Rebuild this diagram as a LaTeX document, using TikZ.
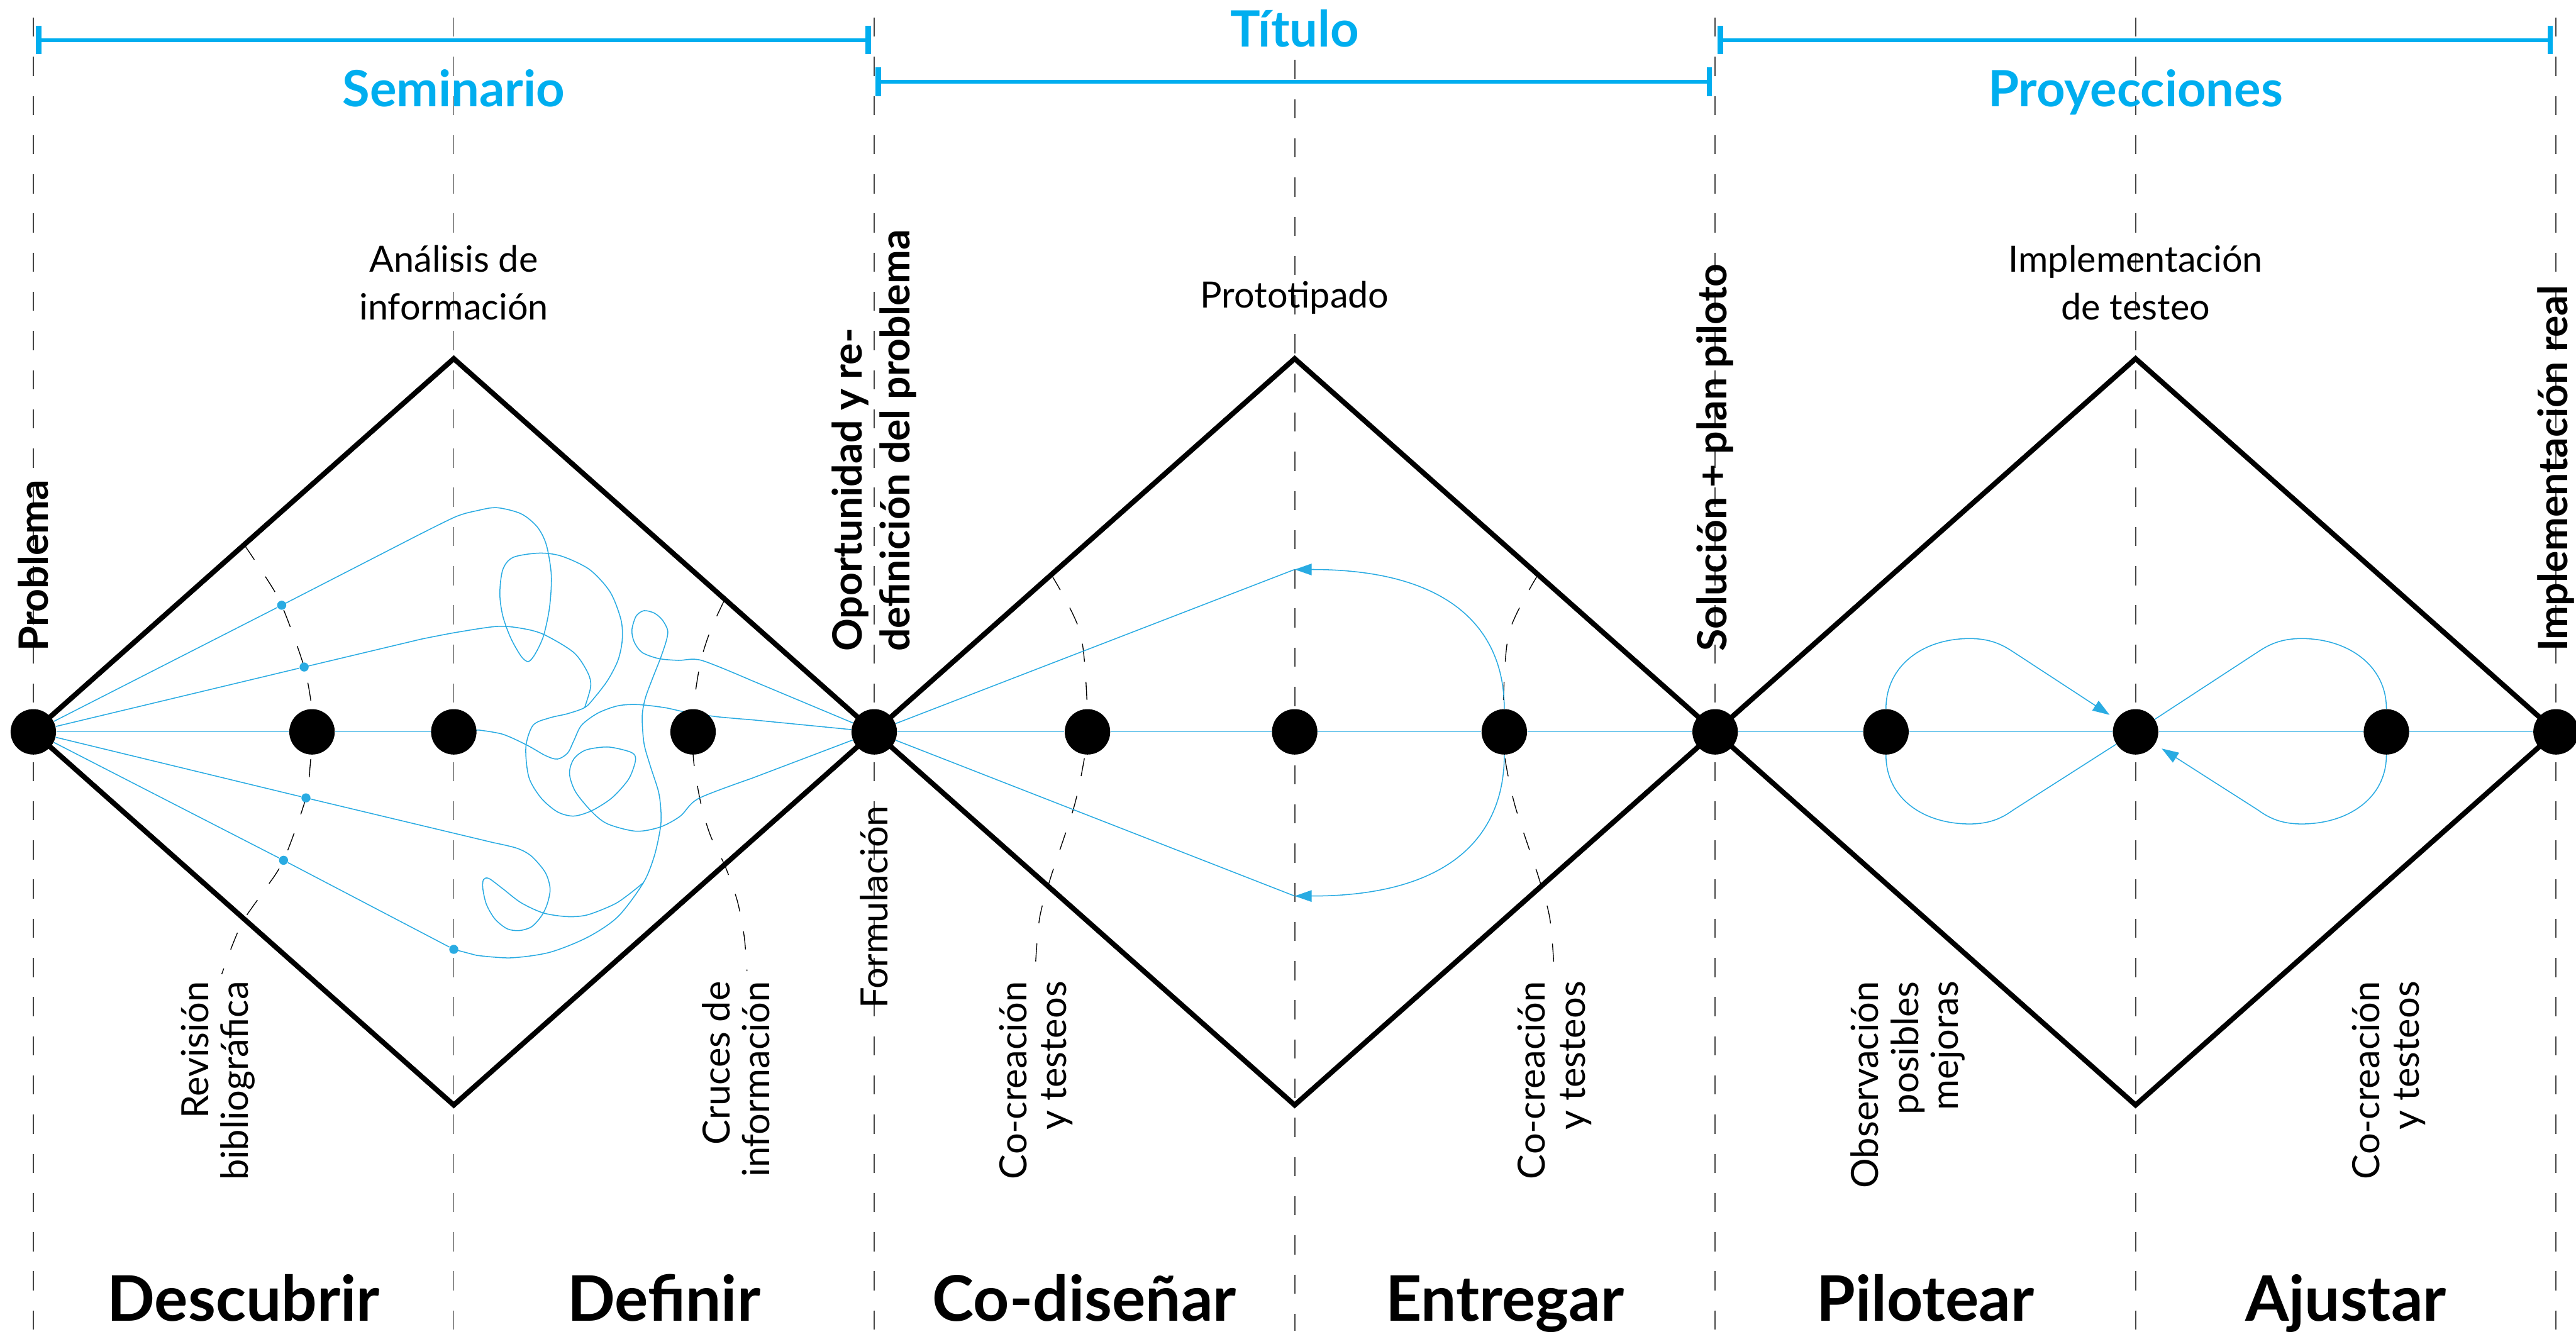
\documentclass[tikz,border=0pt]{standalone}
\usepackage{fontspec}
\setmainfont{Lato}
\usetikzlibrary{arrows.meta}

\definecolor{cian}{RGB}{0,174,239}
\definecolor{cianline}{RGB}{41,171,226}
\definecolor{guia}{RGB}{70,70,70}

\pgfdeclarelayer{fondo}
\pgfsetlayers{fondo,main}

\begin{document}
\begin{tikzpicture}[
    dot/.style={circle, fill=black, inner sep=0pt, minimum size=7.5mm},
    sdot/.style={circle, fill=cianline, inner sep=0pt, minimum size=1.5mm},
    guide/.style={guia, line width=0.55pt, dash pattern=on 9pt off 9.4pt},
    sweep/.style={black, line width=0.4pt, dash pattern=on 8.5pt off 9.5pt},
    diam/.style={line width=2.4pt},
    flow/.style={cianline, line width=0.45pt},
    flowtip/.style={flow, -{Triangle[length=2.8mm, width=1.9mm]}},
    span/.style={cian, line width=1.8pt, arrows={Bar[width=4.7mm, line width=2.6pt]-Bar[width=4.7mm, line width=2.6pt]}},
    head/.style={cian, anchor=base, font=\fontsize{23.5}{28}\selectfont\bfseries},
    phase/.style={anchor=base, font=\fontsize{29.5}{34}\selectfont\bfseries},
    activity/.style={anchor=south, align=center, inner sep=0pt, font=\fontsize{17}{22.4}\selectfont},
    milestone/.style={rotate=90, anchor=west, align=left, inner sep=0pt, font=\fontsize{19}{22.4}\selectfont\bfseries},
    note/.style={rotate=90, anchor=east, align=right, inner sep=0pt, font=\fontsize{17.6}{18.8}\selectfont}
]
\useasboundingbox (-0.55,-10.10) rectangle (41.97,12.08);

% Puntos del eje
\node[dot] (p0) at (0,0) {};
\node[dot] (p1) at (4.60,0) {};
\node[dot] (p2) at (6.94,0) {};
\node[dot] (p3) at (10.89,0) {};
\node[dot] (p4) at (13.88,0) {};
\node[dot] (p5) at (17.40,0) {};
\node[dot] (p6) at (20.82,0) {};
\node[dot] (p7) at (24.28,0) {};
\node[dot] (p8) at (27.76,0) {};
\node[dot] (p9) at (30.58,0) {};
\node[dot] (p10) at (34.70,0) {};
\node[dot] (p11) at (38.84,0) {};
\node[dot] (p12) at (41.64,0) {};

% Puntos de revision
\node[sdot] (ra) at (4.10,2.09) {};
\node[sdot] (rb) at (4.47,1.07) {};
\node[sdot] (rc) at (4.50,-1.09) {};
\node[sdot] (rd) at (4.13,-2.12) {};
\node[sdot] (qd) at (6.94,-3.59) {};

% Cabeceras
\node[head] (tsem) at (6.94,10.32) {Seminario};
\node[head] (ttit) at (20.82,11.31) {Título};
\node[head] (tproy) at (34.70,10.32) {Proyecciones};
\draw[span] (0.04,11.42) -- (13.83,11.42);
\draw[span] (13.90,10.73) -- (27.71,10.73);
\draw[span] (27.80,11.42) -- (41.59,11.42);

% Actividades
\node[activity] (lana) at (6.94,6.79) {Análisis de\\información};
\node[activity, anchor=base] (lproto) at (20.82,7.00) {Prototipado};
\node[activity] (limpl) at (34.70,6.79) {Implementación\\de testeo};

% Hitos
\node[milestone] (mprob) at (0,1.32) {Problema};
\node[milestone] (mopor) at (13.88,1.32) {Oportunidad y re-\\definición del problema};
\node[milestone] (msol) at (27.76,1.32) {Solución + plan piloto};
\node[milestone] (mreal) at (41.64,1.32) {Implementación real};

% Notas
\node[note] (nrev) at (3.05,-4.11) {Revisión\\bibliográfica};
\node[note] (ncru) at (11.60,-4.11) {Cruces de\\información};
\node[note] (nform) at (13.88,-1.21) {Formulación};
\node[note] (ncod) at (16.55,-4.11) {Co-creación\\y testeos};
\node[note] (nent) at (25.11,-4.11) {Co-creación\\y testeos};
\node[note] (nobs) at (30.94,-4.11) {Observación\\posibles\\mejoras};
\node[note] (naju) at (38.88,-4.11) {Co-creación\\y testeos};

% Fases
\node[phase] (fdesc) at (3.47,-9.72) {Descubrir};
\node[phase] (fdef) at (10.41,-9.72) {Definir};
\node[phase] (fcod) at (17.35,-9.72) {Co-diseñar};
\node[phase] (fent) at (24.29,-9.72) {Entregar};
\node[phase] (fpil) at (31.23,-9.72) {Pilotear};
\node[phase] (faju) at (38.17,-9.72) {Ajustar};

\coordinate (q1) at (20.82,2.68);
\coordinate (q2) at (20.82,-2.71);
\coordinate (ul1) at (31.96,1.54);
\coordinate (ul2) at (32.68,1.32);
\coordinate (ll1) at (31.96,-1.52);
\coordinate (ll2) at (32.68,-1.29);
\coordinate (ur1) at (37.44,1.54);
\coordinate (ur2) at (36.72,1.32);
\coordinate (lr1) at (37.44,-1.52);
\coordinate (lr2) at (36.72,-1.29);

\begin{pgfonlayer}{fondo}
% Guias
\draw[guide] (0,11.79) -- (0,-9.89) (6.94,11.79) -- (6.94,-9.89)
  (13.88,11.79) -- (13.88,-9.89) (20.82,11.09) -- (20.82,-9.89)
  (27.76,11.79) -- (27.76,-9.89) (34.70,11.79) -- (34.70,-9.89)
  (41.64,11.79) -- (41.64,-9.89);

% Barridos
\draw[sweep] plot[smooth] coordinates {(3.48,3.09) (3.80,2.61) (4.10,2.09) (4.47,1.07) (4.60,0.37) (4.61,0) (4.57,-0.55) (4.50,-1.09) (4.13,-2.12) (3.78,-2.66) (3.47,-3.11) (3.29,-3.51) (3.11,-4.00)};
\draw[sweep] plot[smooth] coordinates {(11.41,2.18) (11.18,1.68) (11.02,1.18) (10.92,0.58) (10.89,0) (10.90,-0.49) (11.02,-1.19) (11.18,-1.72) (11.42,-2.22) (11.62,-2.79) (11.73,-3.35) (11.77,-3.79) (11.78,-3.95)};
\draw[sweep] plot[smooth] coordinates {(16.80,2.60) (17.28,1.64) (17.40,0.37) (17.40,0) (17.35,-0.43) (17.18,-1.23) (16.80,-2.38) (16.61,-3.07) (16.54,-3.87)};
\draw[sweep] plot[smooth] coordinates {(24.84,2.60) (24.36,1.64) (24.26,0.37) (24.28,0) (24.29,-0.43) (24.46,-1.23) (24.84,-2.38) (25.03,-3.07) (25.10,-3.87)};

% Rombos
\draw[diam] (p0.center) -- (6.94,6.16) -- (p4.center) -- (6.94,-6.16) -- cycle;
\draw[diam] (p4.center) -- (20.82,6.16) -- (p8.center) -- (20.82,-6.16) -- cycle;
\draw[diam] (p8.center) -- (34.70,6.16) -- (p12.center) -- (34.70,-6.16) -- cycle;

% Eje
\draw[flow] (p0) -- (p1) -- (p2);
\draw[flow] (p4) -- (p5) -- (p6) -- (p7) -- (p8) -- (p9) -- (p10) -- (p11) -- (p12);

% Madeja
\draw[flow] (p0) -- (ra) -- plot[smooth] coordinates {(6.30,3.22) (6.97,3.55) (7.32,3.65) (7.65,3.70) (8.05,3.60) (8.32,3.38) (8.47,3.08) (8.55,2.58) (8.52,2.05) (8.42,1.58) (8.28,1.28) (8.17,1.16) (8.05,1.25) (7.88,1.55) (7.75,1.91) (7.70,2.28) (7.75,2.68) (7.92,2.88) (8.35,2.95) (8.72,2.90) (9.18,2.68) (9.52,2.31) (9.70,1.85) (9.72,1.51) (9.65,1.18) (9.48,0.85) (9.25,0.55) (9.10,0.40) (8.82,0.30) (8.52,0.23) (8.25,0.11) (8.13,-0.25) (8.18,-0.75) (8.38,-1.09) (8.65,-1.32) (8.92,-1.39) (9.22,-1.30) (9.55,-1.09) (9.82,-0.79) (9.93,-0.52) (9.93,-0.39) (9.82,-0.32) (9.48,-0.25) (9.12,-0.30) (8.92,-0.45) (8.85,-0.69) (8.95,-0.99) (9.22,-1.32) (9.48,-1.52) (9.95,-1.64) (10.35,-1.57) (10.68,-1.39) (10.98,-1.10) (11.85,-0.77)} -- (p4);
\draw[flow] (p0) -- (rb) -- plot[smooth] coordinates {(6.40,1.53) (6.97,1.64) (7.65,1.74) (8.05,1.71) (8.42,1.61) (8.92,1.31) (9.15,0.98) (9.20,0.75) (9.10,0.40)};
\draw[flow] (p0) -- (rc) -- plot[smooth] coordinates {(7.60,-1.83) (7.98,-1.92) (8.22,-2.05) (8.45,-2.32) (8.53,-2.59) (8.48,-2.85) (8.38,-3.05) (8.22,-3.22) (8.02,-3.28) (7.82,-3.25) (7.62,-3.09) (7.48,-2.85) (7.42,-2.59) (7.43,-2.44) (7.52,-2.42) (7.75,-2.59) (8.05,-2.82) (8.42,-2.99) (8.82,-3.05) (9.15,-3.02) (9.58,-2.85) (9.82,-2.69) (10.07,-2.49)};
\draw[flow] (p0) -- (rd) -- (qd);
\draw[flow] (qd) -- plot[smooth] coordinates {(7.32,-3.69) (7.88,-3.73) (8.52,-3.64) (9.15,-3.39) (9.65,-3.05) (10.07,-2.49) (10.25,-2.05) (10.35,-1.59) (10.36,-1.32) (10.32,-0.99) (10.18,-0.55) (10.08,-0.19) (10.05,0.25) (10.10,0.55) (10.22,0.88) (10.35,1.21) (10.45,1.51) (10.47,1.68) (10.38,1.85) (10.25,1.96) (10.08,2.00) (9.95,1.91) (9.88,1.68) (9.92,1.48) (10.05,1.31) (10.32,1.21) (10.65,1.18) (11.03,1.18) (11.85,0.85)} -- (p4);
\draw[flow] (p2) -- plot[smooth] coordinates {(7.35,0.03) (7.75,-0.04) (8.15,-0.22) (8.45,-0.39) (8.65,-0.45) (8.82,-0.35) (8.92,-0.15) (9.05,0.11) (9.32,0.31) (9.65,0.43) (9.98,0.45) (10.42,0.40) (10.75,0.33) (11.28,0.25) (11.85,0.20)} -- (p4);

% Prototipado
\draw[flow] (p4) -- (q1);
\draw[flow] (p4) -- (q2);
\draw[flowtip] (p7) .. controls (24.28,1.60) and (23.50,2.68) .. (q1);
\draw[flowtip] (p7) .. controls (24.28,-1.62) and (23.50,-2.71) .. (q2);

% Bucles
\draw[flowtip, shorten >=1.3mm] (p9) .. controls (30.58,1.10) and (31.20,1.54) .. (ul1) .. controls (32.30,1.54) and (32.50,1.44) .. (ul2) -- (p10);
\draw[flow] (p9) .. controls (30.58,-1.10) and (31.20,-1.52) .. (ll1) .. controls (32.30,-1.52) and (32.50,-1.42) .. (ll2) -- (p10);
\draw[flow] (p10) -- (ur2) .. controls (36.90,1.44) and (37.10,1.54) .. (ur1) .. controls (38.20,1.54) and (38.84,1.10) .. (p11);
\draw[flowtip, shorten >=1.3mm] (p11) .. controls (38.84,-1.10) and (38.20,-1.52) .. (lr1) .. controls (37.10,-1.52) and (36.90,-1.42) .. (lr2) -- (p10);
\end{pgfonlayer}

\end{tikzpicture}
\end{document}
